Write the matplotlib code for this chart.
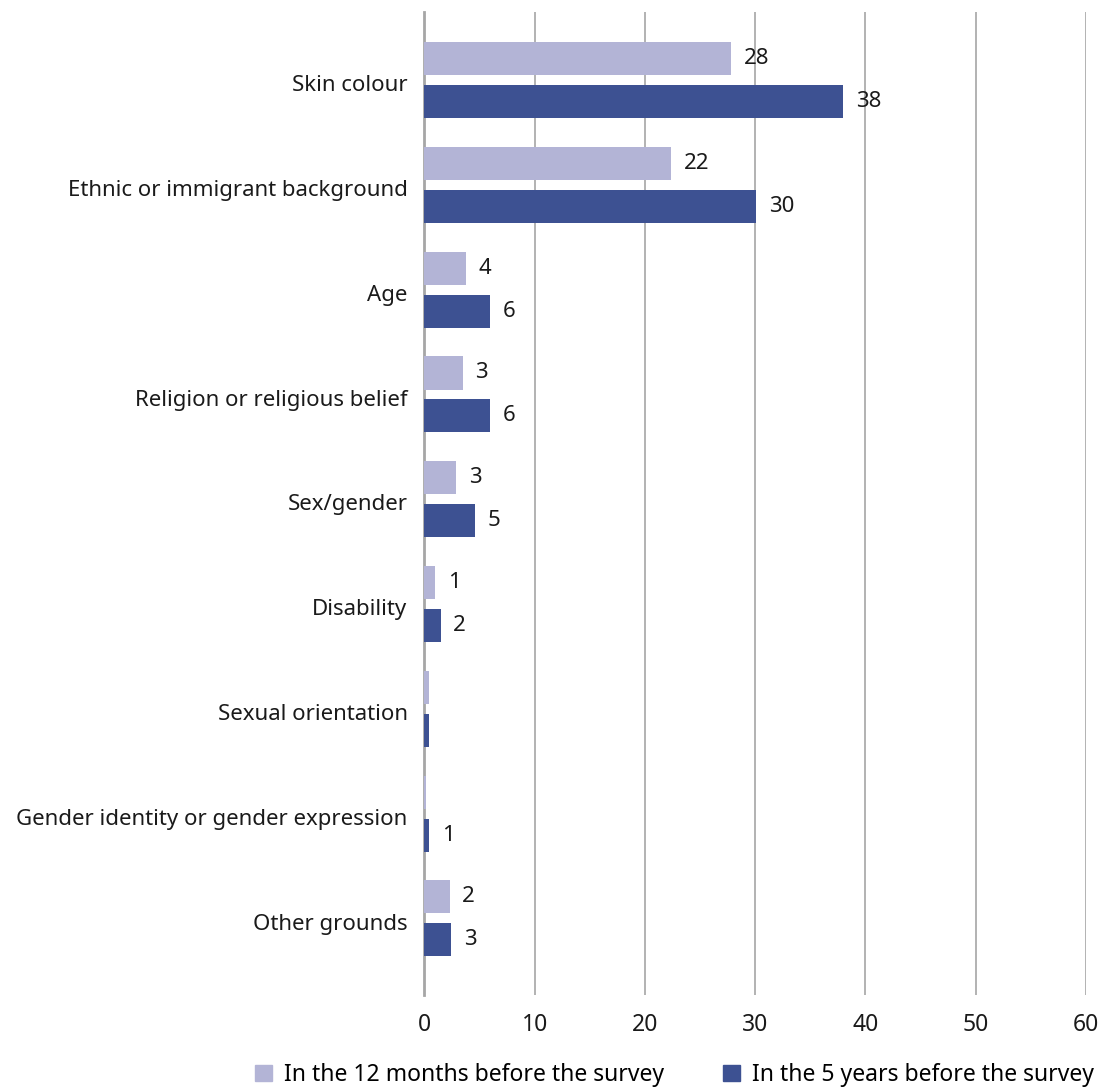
import matplotlib

matplotlib.use("Agg")
import matplotlib.pyplot as plt
from matplotlib.patches import Patch
import numpy as np

categories = [
    "Skin colour",
    "Ethnic or immigrant background",
    "Age",
    "Religion or religious belief",
    "Sex/gender",
    "Disability",
    "Sexual orientation",
    "Gender identity or gender expression",
    "Other grounds",
]
months_12 = [27.8, 22.4, 3.8, 3.5, 2.9, 1.0, 0.45, 0.2, 2.3]
years_5 = [38.0, 30.1, 6.0, 6.0, 4.6, 1.5, 0.45, 0.45, 2.45]
months_12_labels = ["28", "22", "4", "3", "3", "1", "", "", "2"]
years_5_labels = ["38", "30", "6", "6", "5", "2", "", "1", "3"]
series_names = ["In the 12 months before the survey", "In the 5 years before the survey"]

LIGHT = "#B3B4D6"
DARK = "#3D5192"
TEXT = "#1A1A1A"
GRID = "#A6A6A6"

plt.rcParams["font.family"] = ["Noto Sans", "DejaVu Sans"]

fig = plt.figure(figsize=(11.02, 10.88), dpi=100)
ax = fig.add_axes([0.385, 0.0855, 0.6005, 0.9035])

y = np.arange(len(categories))
offset = 0.205
height = 0.315
ax.barh(y - offset, months_12, height=height, color=LIGHT, zorder=3)
ax.barh(y + offset, years_5, height=height, color=DARK, zorder=3)

for yi, val, lab in zip(y, months_12, months_12_labels):
    if lab:
        ax.annotate(lab, (val, yi - offset), textcoords="offset points", xytext=(9, 0),
                    va="center", ha="left", fontsize=16, color=TEXT)
for yi, val, lab in zip(y, years_5, years_5_labels):
    if lab:
        ax.annotate(lab, (val, yi + offset), textcoords="offset points", xytext=(9, 0),
                    va="center", ha="left", fontsize=16, color=TEXT)

ax.set_xlim(0, 60)
ax.set_ylim(8.73, -0.65)
ax.set_xticks(range(0, 61, 10))
ax.set_yticks(y + 0.03)
ax.set_yticklabels(categories)
ax.tick_params(axis="both", length=0, colors=TEXT)
ax.tick_params(axis="x", pad=13, labelsize=16.5)
ax.tick_params(axis="y", pad=12, labelsize=16)
ax.grid(axis="x", color=GRID, linewidth=1.2, zorder=0)
for side in ("top", "right", "bottom"):
    ax.spines[side].set_visible(False)
ax.spines["left"].set_color(GRID)
ax.spines["left"].set_linewidth(2)

handles = [Patch(color=LIGHT), Patch(color=DARK)]
fig.legend(handles, series_names, loc="lower center", bbox_to_anchor=(0.612, -0.018), ncol=2,
           frameon=False, fontsize=16.5, handlelength=0.75, handleheight=0.75,
           handletextpad=0.5, columnspacing=2.6)

fig.savefig("out.png", dpi=100)
